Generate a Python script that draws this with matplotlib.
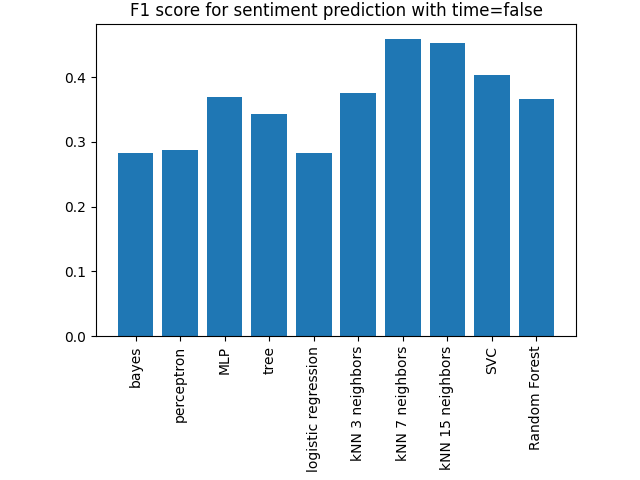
import matplotlib
matplotlib.use("Agg")
import matplotlib.pyplot as plt

models = ['bayes', 'perceptron', 'MLP', 'tree', 'logistic regression',
          'kNN 3 neighbors', 'kNN 7 neighbors', 'kNN 15 neighbors', 'SVC', 'Random Forest']
f1 = [0.283, 0.287, 0.369, 0.343, 0.283, 0.375, 0.459, 0.453, 0.403, 0.366]

fig, ax = plt.subplots(figsize=(6.4, 4.8), dpi=100)
ax.bar(models, f1)
ax.set_title('F1 score for sentiment prediction with time=false')
plt.xticks(rotation=90)
fig.subplots_adjust(left=0.15, right=0.9, bottom=0.3, top=0.95)
fig.savefig('out.png')
